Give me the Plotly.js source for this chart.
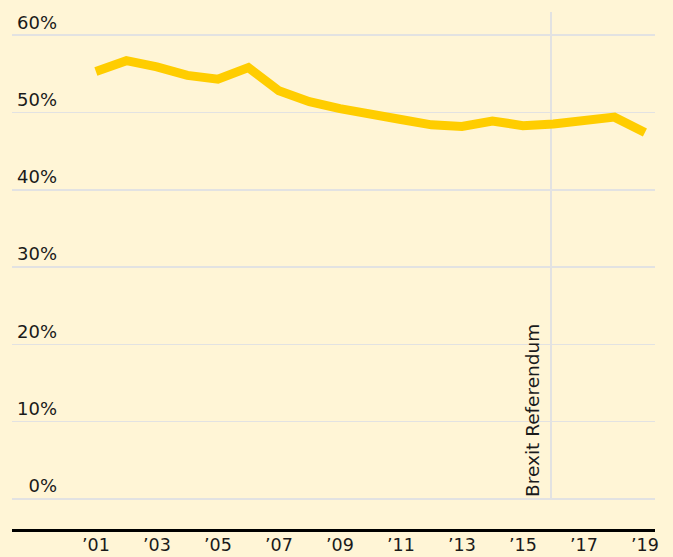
<!DOCTYPE html>
<html>
<head>
<meta charset="utf-8">
<script src="https://cdn.plot.ly/plotly-3.0.1.min.js"></script>
<style>html,body{margin:0;padding:0;background:#fff5d6;}</style>
</head>
<body>
<div id="chart" style="width:673px;height:557px;"></div>
<script>
const years = [2001,2002,2003,2004,2005,2006,2007,2008,2009,2010,2011,2012,2013,2014,2015,2016,2017,2018,2019];
const share = [55.3,56.7,55.9,54.8,54.3,55.8,52.8,51.4,50.5,49.7,49.1,48.4,48.2,48.9,48.3,48.5,48.9,49.4,47.4];
const xTickVals = [2001,2003,2005,2007,2009,2011,2013,2015,2017,2019];
const xTickText = ["’01","’03","’05","’07","’09","’11","’13","’15","’17","’19"];
const yTickVals = [0,10,20,30,40,50,60];
const yTickText = ["0%","10%","20%","30%","40%","50%","60%"];
const eventX = 2015.92;
const eventLabel = "Brexit Referendum";

const trace = {
  x: years, y: share, type: 'scatter', mode: 'lines',
  line: {color: '#ffcd00', width: 9},
  hoverinfo: 'skip'
};

const layout = {
  width: 673, height: 557,
  paper_bgcolor: '#fff5d6', plot_bgcolor: '#fff5d6',
  margin: {l: 12, r: 18, t: 12, b: 28},
  showlegend: false,
  font: {family: 'DejaVu Sans', color: '#1a1a1a', size: 18},
  xaxis: {
    range: [1998.25, 2019.33],
    tickvals: xTickVals, ticktext: xTickText,
    showgrid: false, zeroline: false,
    showline: true, linecolor: '#000', linewidth: 3,
    ticks: '', ticklabelstandoff: -2,
    tickfont: {family: 'DejaVu Sans', size: 17.5, color: '#1a1a1a'}
  },
  yaxis: {
    range: [-3.88, 63.0],
    tickvals: yTickVals, ticktext: yTickText,
    anchor: 'free', position: 0.07, side: 'left',
    showgrid: true, gridcolor: '#e2e2e2', gridwidth: 1.5,
    zeroline: false, showline: false, ticks: '',
    ticklabelshift: -13,
    tickfont: {family: 'DejaVu Sans', size: 18, color: '#1a1a1a'}
  },
  shapes: [{
    type: 'line', xref: 'x', yref: 'paper',
    x0: eventX, x1: eventX, y0: 0.0581, y1: 1,
    line: {color: '#e2e2e2', width: 2}, layer: 'below'
  }],
  annotations: [{
    x: eventX, y: 0, xref: 'x', yref: 'y',
    text: eventLabel, textangle: -90, showarrow: false,
    xanchor: 'right', yanchor: 'bottom', xshift: -6,
    font: {family: 'DejaVu Sans', size: 18.5, color: '#1a1a1a'}
  }]
};

Plotly.newPlot('chart', [trace], layout, {displayModeBar: false, staticPlot: true});
</script>
</body>
</html>
